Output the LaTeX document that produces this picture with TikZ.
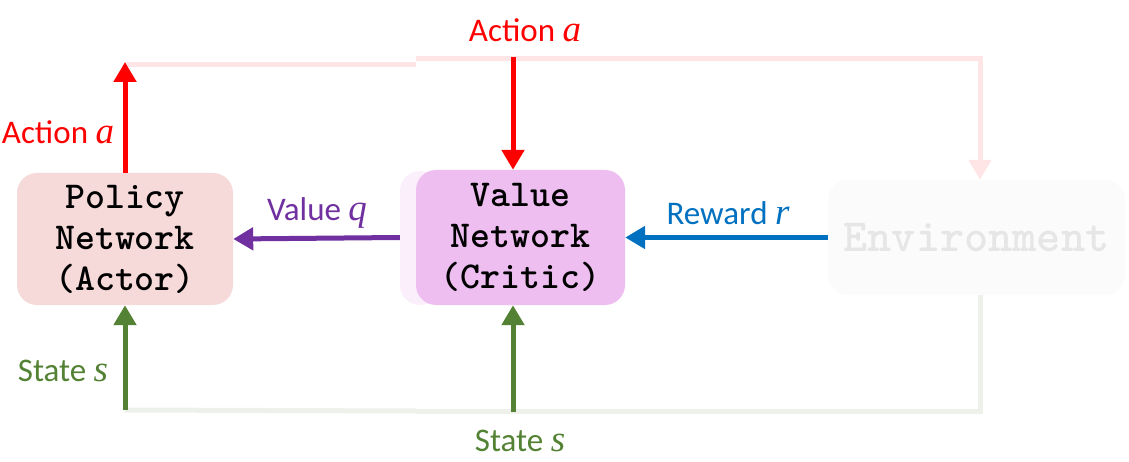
\documentclass[tikz,border=0pt]{standalone}
\usepackage{fontspec}
\setmainfont{Carlito}
\newfontfamily\varfont{Liberation Serif}
\newcommand\var[1]{{\varfont\itshape\fontsize{37}{37}\selectfont #1}}
\usetikzlibrary{arrows.meta}
\definecolor{actred}{HTML}{FF0000}
\definecolor{valpurple}{HTML}{7030A0}
\definecolor{rewblue}{HTML}{0070C0}
\definecolor{stgreen}{HTML}{548235}
\definecolor{policyfill}{HTML}{F6DADA}
\definecolor{valuefill}{HTML}{EEBEF0}
\definecolor{stripfill}{HTML}{FAEFFA}
\definecolor{envfill}{HTML}{FBFBFB}
\definecolor{envtext}{HTML}{E6E6E6}
\definecolor{fadered}{HTML}{FFE5E5}
\definecolor{fadegray}{HTML}{EEF0EA}
\tikzset{
  netbox/.style={rounded corners=20pt, align=center, inner sep=0pt,
    font=\ttfamily\bfseries\fontsize{38}{41}\selectfont},
  lab/.style={font=\fontsize{33}{36}\selectfont},
  flow/.style={line width=5pt, ->},
  faded/.style={line width=5pt}
}
\begin{document}
\begin{tikzpicture}[x=1pt, y=-1pt, >={Triangle[length=20pt,width=22pt]}]
\useasboundingbox (0,0) rectangle (1129,462);
% boxes
\node[netbox, fill=policyfill, minimum width=216pt, minimum height=132pt] (policy) at (125,239) {Policy\\Network\\(Actor)};
\fill[stripfill, rounded corners=20pt] (400,171) rectangle (440,305);
\node[netbox, fill=valuefill, minimum width=209pt, minimum height=135pt] (value) at (520.5,237.5) {Value\\Network\\(Critic)};
\node[netbox, fill=envfill, text=envtext, minimum width=297pt, minimum height=115pt,
  font=\ttfamily\bfseries\fontsize{46}{48}\selectfont] (env) at (976.5,237.5) {Environment};
% loose ends
\coordinate (aout) at (125,65);
\coordinate (ain) at (513,57);
\coordinate (sleft) at (125,410);
\coordinate (smid) at (513,412);
\coordinate (topmid) at (416,59);
\coordinate (botmid) at (416,411);
% faded environment loop
\draw[faded, fadered] (aout) -- (aout -| topmid);
\draw[faded, fadered, ->] (topmid) -| ([xshift=3.5pt]env.north);
\draw[faded, fadegray] (sleft) -- (botmid);
\draw[faded, fadegray] (botmid) -| ([xshift=3.5pt]env.south);
% arrows
\draw[flow, actred] (policy.north) -- ([yshift=3pt]aout);
\draw[flow, actred] (ain) -- (ain |- value.north);
\draw[flow, stgreen] (sleft) -- (policy.south);
\draw[flow, stgreen] (smid) -- (smid |- value.south);
\draw[flow, valpurple] ([xshift=-16pt]value.west) -- (policy.east);
\draw[flow, rewblue] (env.west) -- (value.east);
% labels
\node[lab, text=actred] (la1) at (58,132) {Action \var{a}};
\node[lab, text=actred] (la2) at (525,30) {Action \var{a}};
\node[lab, text=valpurple] (lq) at (317,213) {Value \var{q}};
\node[lab, text=rewblue] (lr) at (728,213) {Reward \var{r}};
\node[lab, text=stgreen] (ls1) at (63,371) {State \var{s}};
\node[lab, text=stgreen] (ls2) at (520,441) {State \var{s}};
\end{tikzpicture}
\end{document}
